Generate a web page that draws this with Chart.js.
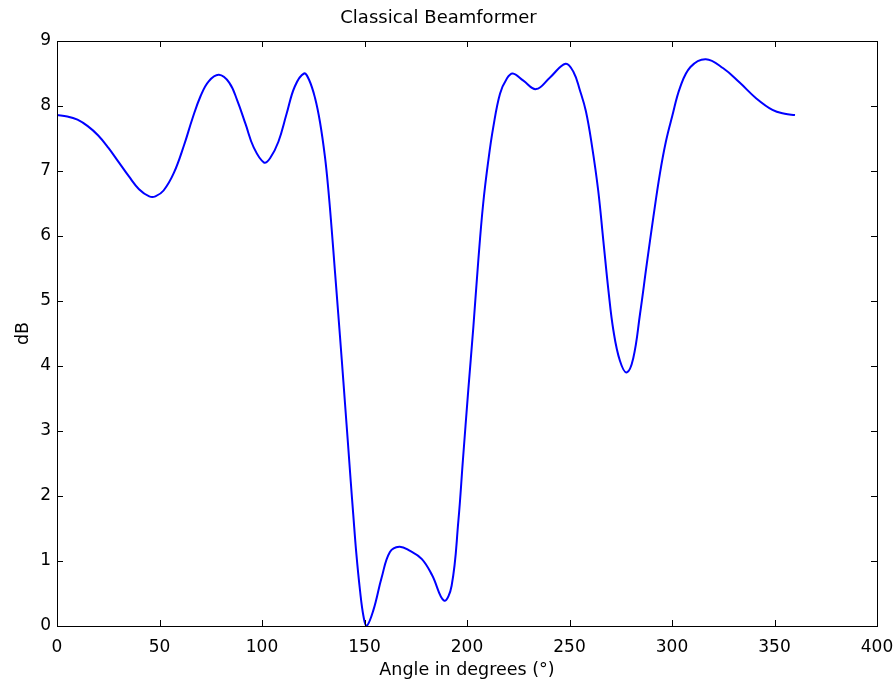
<!DOCTYPE html>
<html>
<head>
<meta charset="utf-8">
<title>Classical Beamformer</title>
<script src="https://cdn.jsdelivr.net/npm/chart.js@4.4.1/dist/chart.umd.min.js"></script>
<style>
  html, body { margin: 0; padding: 0; background: #fff; }
  #wrap { width: 894px; height: 681px; }
</style>
</head>
<body>
<div id="wrap"><canvas id="beamChart" width="894" height="681"></canvas></div>
<script>
// -------- data --------
const angles = [0, 5, 10, 15, 20, 25, 30, 35, 40, 45, 48, 52, 57, 62, 66, 70, 74, 79, 84, 88,
    92, 96, 101, 104, 108, 112, 116, 120.5, 123, 125.9, 128.3, 130.7, 132.4, 134, 135.6, 137.2,
    138.9, 140.5, 142, 143.3, 144.5, 146, 147.8, 149.5, 151, 154.3, 158.4, 162.4, 167, 172, 178,
    183, 188.8, 192.5, 195.8, 198, 200.6, 203.1, 205.5, 207.9, 210.4, 212.8, 216.1, 219.4, 222.3,
    227.5, 233.7, 240.5, 248.1, 252, 255, 258, 261, 264, 266.5, 269, 271.4, 274.6, 277.9,
    281.1, 284.4, 287.7, 290.9, 294.1, 297, 300, 304, 309, 316.5, 325, 333, 341, 349, 355, 360];

const dB = [7.86, 7.84, 7.79, 7.69, 7.55, 7.36, 7.14, 6.92, 6.72, 6.61, 6.61, 6.70, 6.97, 7.40,
    7.80, 8.15, 8.38, 8.48, 8.36, 8.08, 7.72, 7.36, 7.13, 7.20, 7.45, 7.88, 8.30, 8.50, 8.40,
    8.12, 7.75, 7.22, 6.70, 6.10, 5.45, 4.80, 4.10, 3.42, 2.78, 2.22, 1.72, 1.12, 0.55, 0.15,
    0.00, 0.24, 0.75, 1.14, 1.22, 1.16, 1.03, 0.78, 0.39, 0.62, 1.62, 2.55, 3.62, 4.60, 5.62,
    6.50, 7.16, 7.67, 8.19, 8.42, 8.50, 8.39, 8.26, 8.44, 8.65, 8.52, 8.25, 7.92, 7.38, 6.70,
    5.93, 5.16, 4.55, 4.08, 3.90, 4.12, 4.80, 5.57, 6.29, 6.96, 7.45, 7.83, 8.29, 8.60, 8.72,
    8.58, 8.36, 8.12, 7.94, 7.88, 7.86];

const xTicks = [0, 50, 100, 150, 200, 250, 300, 350, 400];
const yTicks = [0, 1, 2, 3, 4, 5, 6, 7, 8, 9];

const FONT = "'DejaVu Sans', 'Liberation Sans', Arial, sans-serif";

// -------- box + inward ticks --------
const boxTicks = {
    id: 'boxTicks',
    afterDraw(chart){
        const ctx = chart.ctx;
        const a = chart.chartArea;
        const xs = chart.scales.x;
        const ys = chart.scales.y;
        const len = 6;
        ctx.save();
        ctx.strokeStyle = '#000';
        ctx.lineWidth = 1;
        ctx.beginPath();
        xTicks.forEach(function(v){
            let px = Math.round(xs.getPixelForValue(v)) + 0.5;
            ctx.moveTo(px, a.bottom); ctx.lineTo(px, a.bottom - len);
            ctx.moveTo(px, a.top); ctx.lineTo(px, a.top + len);
        });
        yTicks.forEach(function(v){
            let py = Math.round(ys.getPixelForValue(v)) + 0.5;
            ctx.moveTo(a.left, py); ctx.lineTo(a.left + len, py);
            ctx.moveTo(a.right, py); ctx.lineTo(a.right - len, py);
        });
        ctx.stroke();
        ctx.strokeRect(Math.round(a.left) + 0.5, Math.round(a.top) + 0.5,
            Math.round(a.right - a.left), Math.round(a.bottom - a.top));
        ctx.restore();
    }
};

window.onload = function(){

    const ctx = document.getElementById('beamChart').getContext('2d');

    new Chart(ctx, {
        type: 'line',
        data: {
            datasets: [{
                data: angles.map(function(a, i){ return { x: a, y: dB[i] }; }),
                borderColor: '#0000ff',
                borderWidth: 2,
                pointRadius: 0,
                fill: false,
                tension: 0.4
            }]
        },
        options: {
            responsive: false,
            animation: false,
            layout: { padding: { left: 0, right: 17, top: 0, bottom: 0 } },
            plugins: {
                legend: { display: false },
                tooltip: { enabled: false },
                title: {
                    display: true,
                    text: 'Classical Beamformer',
                    color: '#000',
                    font: { family: FONT, size: 18, weight: 'normal' },
                    padding: { top: 8, bottom: 11.4 }
                }
            },
            scales: {
                x: {
                    type: 'linear',
                    min: 0,
                    max: 400,
                    grid: { display: false, drawTicks: false },
                    border: { display: false },
                    ticks: {
                        stepSize: 50,
                        color: '#000',
                        padding: 11,
                        maxRotation: 0,
                        font: { family: FONT, size: 17 }
                    },
                    title: {
                        display: true,
                        text: 'Angle in degrees (\u00b0)',
                        color: '#000',
                        font: { family: FONT, size: 17.5 },
                        padding: { top: 0, bottom: 0 }
                    },
                    afterFit: function(s){
                        s.height = 55;
                        s.paddingLeft = 0;
                        s.paddingRight = 0;
                    }
                },
                y: {
                    min: 0,
                    max: 9,
                    grid: { display: false, drawTicks: false },
                    border: { display: false },
                    ticks: {
                        stepSize: 1,
                        color: '#000',
                        padding: 6,
                        font: { family: FONT, size: 17 }
                    },
                    title: {
                        display: true,
                        text: 'dB',
                        color: '#000',
                        font: { family: FONT, size: 17.5 },
                        padding: { top: 13, bottom: 0 }
                    },
                    afterFit: function(s){
                        s.width = 57;
                        s.paddingTop = 0;
                        s.paddingBottom = 0;
                    }
                }
            }
        },
        plugins: [boxTicks]
    });

};
</script>
</body>
</html>
